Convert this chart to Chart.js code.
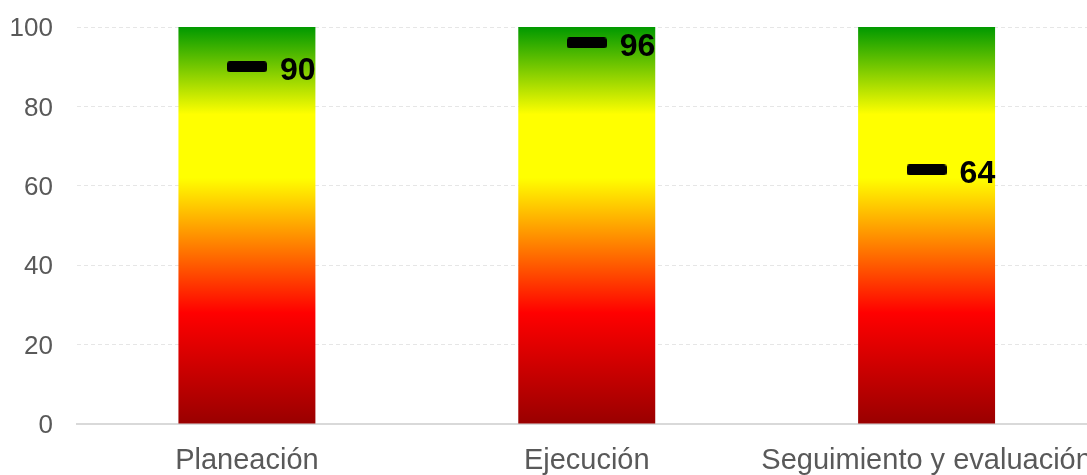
<!DOCTYPE html>
<html>
<head>
<meta charset="utf-8">
<script src="https://cdn.jsdelivr.net/npm/chart.js@4"></script>
<style>
  html, body { margin: 0; padding: 0; background: #fff; overflow: hidden; }
  #wrap { position: relative; width: 1105px; height: 475px; }
</style>
</head>
<body>
<div id="wrap"><canvas id="c"></canvas></div>
<script>
// Stages and their scores on a 0–100 scale
const categories = ['Planeación', 'Ejecución', 'Seguimiento y evaluación'];
const scaleMax = [100, 100, 100];
const scores = [90, 96, 64];
const yTicks = [0, 20, 40, 60, 80, 100];

// Colour band along the gauge: [value, colour]
const bandStops = [
  [0, '#990000'],
  [28, '#ff0000'],
  [50, '#ffa500'],
  [62, '#ffff00'],
  [78, '#ffff00'],
  [100, '#009900']
];

const FONT = "'Liberation Sans', Arial, sans-serif";

// Rounded black dash used as the score marker
const marker = document.createElement('canvas');
marker.width = 40; marker.height = 11;
(function () {
  const m = marker.getContext('2d');
  m.fillStyle = '#000';
  m.beginPath();
  m.roundRect(0, 0, 40, 11, 3);
  m.fill();
})();

function bandGradient(context) {
  const chart = context.chart;
  const y = chart.scales.y;
  if (!chart.chartArea || !y) return '#ff0000';
  const g = chart.ctx.createLinearGradient(0, y.getPixelForValue(0), 0, y.getPixelForValue(100));
  bandStops.forEach(([v, c]) => g.addColorStop(v / 100, c));
  return g;
}

// Bold value labels to the right of each marker
const scoreLabels = {
  id: 'scoreLabels',
  afterDatasetsDraw(chart) {
    const meta = chart.getDatasetMeta(1);
    const ctx = chart.ctx;
    ctx.save();
    ctx.font = 'bold 32px ' + FONT;
    ctx.fillStyle = '#000';
    ctx.textAlign = 'left';
    ctx.textBaseline = 'middle';
    meta.data.forEach((pt, i) => {
      ctx.fillText(String(scores[i]), pt.x + 33, pt.y + 4);
    });
    ctx.restore();
  }
};

new Chart(document.getElementById('c'), {
  data: {
    labels: categories,
    datasets: [
      {
        type: 'bar',
        data: scaleMax,
        backgroundColor: bandGradient,
        borderWidth: 0,
        barPercentage: 1,
        categoryPercentage: 0.403,
        order: 2
      },
      {
        type: 'line',
        data: scores,
        showLine: false,
        pointStyle: marker,
        pointRadius: 6,
        order: 1
      }
    ]
  },
  options: {
    responsive: true,
    maintainAspectRatio: false,
    animation: false,
    layout: { padding: { top: 27, left: 0, right: 0, bottom: 0 } },
    plugins: { legend: { display: false }, tooltip: { enabled: false } },
    scales: {
      x: {
        grid: { display: false },
        border: { display: true, color: '#d9d9d9', width: 2 },
        ticks: {
          color: '#595959',
          font: { family: FONT, size: 29 },
          padding: 12,
          maxRotation: 0,
          autoSkip: false
        },
        afterFit(scale) { scale.height = 51; }
      },
      y: {
        min: 0,
        max: 100,
        afterBuildTicks(scale) { scale.ticks = yTicks.map(v => ({ value: v })); },
        grid: {
          drawTicks: false,
          color: ctx => (ctx.tick && ctx.tick.value === 0) ? 'rgba(0,0,0,0)' : '#e6e6e6',
          lineWidth: 1
        },
        border: { display: false, dash: [4, 3] },
        ticks: {
          color: '#595959',
          font: { family: FONT, size: 26 },
          padding: 24,
          labelOffset: 2
        },
        afterFit(scale) {
          scale.width = 77;
          scale.paddingTop = 0;
          scale.paddingBottom = 0;
        }
      }
    }
  },
  plugins: [scoreLabels]
});
</script>
</body>
</html>
